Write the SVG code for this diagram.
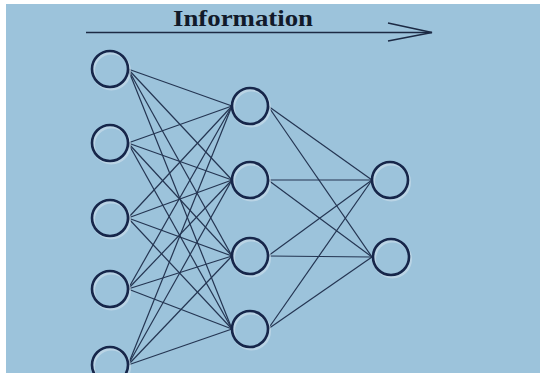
<svg xmlns="http://www.w3.org/2000/svg" width="542" height="373" viewBox="0 0 542 373">
  <style>
    .node { fill: none; stroke: #16264a; stroke-width: 2.6; }
    .halo { fill: none; stroke: #c8dcea; stroke-width: 3; opacity: 0.7; }
    .edge { stroke: #243552; stroke-width: 1.2; fill: none; }
    .title { font-family: "Liberation Serif", "DejaVu Serif", serif; font-weight: bold; font-size: 24px; fill: #111a2a; }
  </style>
  <defs>
    <g id="neuron">
      <circle class="halo" cx="1.5" cy="2" r="18"/>
      <circle class="node" cx="0" cy="0" r="18"/>
    </g>
  </defs>

  <!-- canvas -->
  <rect x="0" y="0" width="542" height="373" fill="#ffffff"/>
  <rect x="6" y="4" width="534" height="369" fill="#9cc3db"/>

  <!-- direction of information flow -->
  <g id="flow">
    <text class="title" x="243" y="26" text-anchor="middle" textLength="140" lengthAdjust="spacingAndGlyphs">Information</text>
    <line x1="86" y1="32.5" x2="432" y2="32.5" stroke="#1c2a44" stroke-width="1.6"/>
    <polyline points="388,23 432,32.5 388,41" fill="none" stroke="#1c2a44" stroke-width="1.6"/>
  </g>

  <!-- connections -->
  <g id="connectors">
    <!-- input layer to hidden layer -->
    <g class="edge">
      <line x1="128" y1="69" x2="232" y2="106"/>
      <line x1="128" y1="69" x2="232" y2="180"/>
      <line x1="128" y1="69" x2="232" y2="256"/>
      <line x1="128" y1="69" x2="232" y2="329"/>
      <line x1="128" y1="143" x2="232" y2="106"/>
      <line x1="128" y1="143" x2="232" y2="180"/>
      <line x1="128" y1="143" x2="232" y2="256"/>
      <line x1="128" y1="143" x2="232" y2="329"/>
      <line x1="128" y1="218" x2="232" y2="106"/>
      <line x1="128" y1="218" x2="232" y2="180"/>
      <line x1="128" y1="218" x2="232" y2="256"/>
      <line x1="128" y1="218" x2="232" y2="329"/>
      <line x1="128" y1="289" x2="232" y2="106"/>
      <line x1="128" y1="289" x2="232" y2="180"/>
      <line x1="128" y1="289" x2="232" y2="256"/>
      <line x1="128" y1="289" x2="232" y2="329"/>
      <line x1="128" y1="365" x2="232" y2="106"/>
      <line x1="128" y1="365" x2="232" y2="180"/>
      <line x1="128" y1="365" x2="232" y2="256"/>
      <line x1="128" y1="365" x2="232" y2="329"/>
    </g>
    <!-- hidden layer to output layer -->
    <g class="edge">
      <line x1="268" y1="106" x2="372" y2="180"/>
      <line x1="268" y1="106" x2="372" y2="257"/>
      <line x1="268" y1="180" x2="372" y2="180"/>
      <line x1="268" y1="180" x2="372" y2="257"/>
      <line x1="268" y1="256" x2="372" y2="180"/>
      <line x1="268" y1="256" x2="372" y2="257"/>
      <line x1="268" y1="329" x2="372" y2="180"/>
      <line x1="268" y1="329" x2="372" y2="257"/>
    </g>
  </g>

  <!-- input layer -->
  <g id="in1"><use href="#neuron" x="110" y="69"/></g>
  <g id="in2"><use href="#neuron" x="110" y="143"/></g>
  <g id="in3"><use href="#neuron" x="110" y="218"/></g>
  <g id="in4"><use href="#neuron" x="110" y="289"/></g>
  <g id="in5"><use href="#neuron" x="110" y="365"/></g>

  <!-- hidden layer -->
  <g id="hid1"><use href="#neuron" x="250" y="106"/></g>
  <g id="hid2"><use href="#neuron" x="250" y="180"/></g>
  <g id="hid3"><use href="#neuron" x="250" y="256"/></g>
  <g id="hid4"><use href="#neuron" x="250" y="329"/></g>

  <!-- output layer -->
  <g id="out1"><use href="#neuron" x="390" y="180"/></g>
  <g id="out2"><use href="#neuron" x="391" y="257"/></g>
</svg>
